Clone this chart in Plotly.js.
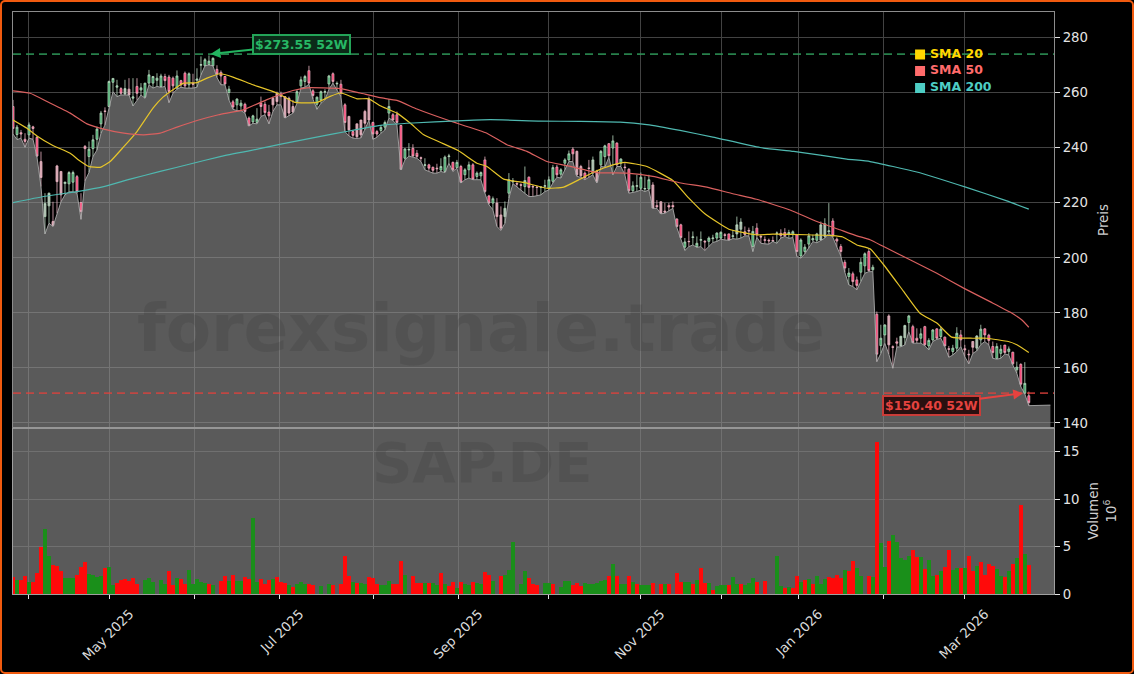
<!DOCTYPE html>
<html>
<head>
<meta charset="utf-8">
<script src="https://cdn.plot.ly/plotly-3.0.1.min.js"></script>
<style>
  html, body { margin: 0; padding: 0; background: #000; }
  #chart { position: relative; width: 1134px; height: 674px; }
  #frame { position: absolute; left: 0; top: 0; width: 1130px; height: 670px; border: 2px solid #f05a0f; border-radius: 5px; pointer-events: none; }
</style>
</head>
<body>
<div id="chart"></div>
<div id="frame"></div>
<script>
// one row = ten trading days
const opens = [
  255,244.8,245.5,243.1,244.7,247.6,243.8,235,215,218.9,
  213.2,233.4,231.4,227,226.9,227.5,229.5,220.1,240.5,236.8,
  239.7,243.1,248.7,253.4,255,263.8,262,261.5,259.5,261.3,
  258,262.3,261,258.4,263.5,263.5,264.5,262.3,265.9,265.7,
  265.3,261.7,264.4,267.1,262.9,263.5,264.5,270,269.8,270.2,
  269.8,268.5,267.4,265.9,260.1,256.7,255.6,255.2,255.8,250.8,
  249.4,249.2,256.2,255.8,253,258,259.8,259.6,258.6,258,
  255,256.6,262.5,264.1,268,260.7,255.8,257.4,260.2,263.2,
  266.9,263.2,263.1,255.6,251.4,245.9,248.7,250.1,253.2,257.7,
  249.2,245.9,246.3,247.5,252.6,252,252,248.1,236.2,239.2,
  239.8,238,236.4,233.6,233.8,232.9,232.6,231.9,231.4,236.8,
  234.7,232.8,233.2,230.2,232,233.8,229.6,229.8,235.6,222.5,
  219.9,219.9,215.6,215,223.5,227.6,227,226.6,225.9,229.3,
  225.9,225.7,225.6,226,225.3,227.8,233,230.4,234.4,235.6,
  239.5,238.7,233.2,230.8,232.7,230.8,231.4,233.8,236.8,241.5,
  239.9,241.7,234.4,233,232.2,224.4,226,225.3,225,225,
  226.5,219,220.4,217,219,219,214.1,212,203.9,206,
  207.4,204.1,206.4,206,206,207,207.2,207.2,208.4,208.7,
  207.8,208.7,210.4,209.5,210,204.1,210.8,207.8,206.6,206.4,
  206.3,208.9,208.9,209.2,208.6,208.6,208.4,200.7,202.3,205,
  206.5,206.4,206.5,207.8,209.5,213.4,206.8,204.1,198.4,193.2,
  194.2,192,194.8,197.1,202.3,195.7,179.5,168.1,172,178.9,
  167.7,169.5,168,171,176.5,175,170.8,170.8,175,168,
  170.2,174.2,171.4,171.2,167,166,167.2,172,167,165,
  169.6,167.2,170.2,174.2,171.9,167.8,163.5,165.3,168.3,166,
  165.7,159.3,161.3,150.8,149.9
];
const highs = [
  257.4,248.3,246.5,245.3,249.2,248,244.3,238.6,223.5,223.7,
  220.4,233.8,231.4,227.7,231.5,231.7,230.1,223.5,241,242.3,
  244.7,247.7,253.4,254.7,264.4,265.3,264.7,262,264.7,265.3,
  265.3,265.3,263.5,263.5,268.3,266.1,267.1,266.9,266.9,266.5,
  265.9,268.1,264.7,267.7,267.4,266.9,268.9,273.2,272.6,273.55,
  272.9,270,268.1,266.1,262.5,257.4,258,257.4,256.4,251.4,
  252,254.4,258.6,256.8,255.6,258.6,260.4,260.4,258.6,258.6,
  257.4,261,265.9,266.5,269.8,261.3,258.6,260.8,261.3,266.5,
  267.4,264.1,264.7,256.2,251.6,246.5,248.7,250.1,253.8,258.6,
  249.5,246.5,248.3,249.9,257.7,252.6,253.2,248.3,239.8,241.7,
  241.3,239.2,236.8,236.2,234.2,233.2,234.2,236.2,237.2,237.8,
  235,235.6,233.8,232.6,235,234.4,231.4,231.4,236.8,222.9,
  222.3,221.7,218.7,220.5,230.8,229,227.5,227.1,233.2,229.6,
  226.5,226.2,225.9,228.4,229.6,233.8,233.8,232.6,236.2,239,
  240.2,239,233.8,231.4,235.6,236.8,232,239.2,241.1,241.7,
  244.5,242,236.2,234.4,232.6,227.8,230.2,231,229.6,230.2,
  227.5,221,220.5,220,220,220.5,214.4,212.4,207.2,209.6,
  209.6,207.8,209.6,206.5,207.8,208.4,209.3,209.6,209,208.8,
  210.2,215,214.4,211.4,211,211.6,212.6,208.4,207.8,207,
  207.8,209.6,210.4,210.8,210.2,210,208.7,207.1,205,209,
  208.4,209.1,213.2,214.4,219.9,214.4,207.4,205,199.3,196.3,
  195,193.2,199.9,202,203.2,197.5,180.5,175.7,175.9,179.5,
  168.2,171,171.7,175.7,179.3,175.7,174.4,174.4,175.3,170.8,
  174.1,174.4,175,171.4,168,168.4,174.8,173.8,168.4,166.6,
  169.8,171.9,175.7,174.4,172.4,169.6,169,168.4,168.4,167.8,
  165.9,162.3,161.7,162.1,151.4
];
const lows = [
  245,243,243.5,240.2,243.5,243.1,236.6,225.9,208.7,212.6,
  211.4,216.2,220.4,222.9,224,224,223.5,214,228,231,
  236.8,239.2,245.3,248.3,254.7,260.4,258.6,259.2,259.2,259.2,
  255.2,257.4,259.2,258,262.9,261.7,262.3,262,262.3,256.4,
  259.8,261.3,262,261.7,261.7,261.7,262,266.5,269.8,270.1,
  269.8,265.5,262.9,262.9,257.4,254,253.5,253.5,252.6,248,
  248.9,248.7,251.4,252,248.7,253.2,255.6,255.6,250.8,251.6,
  252.6,256.2,261.7,262,263.1,257.7,254,256.2,257.4,261.3,
  263.5,261,258.6,245.9,244.3,243.5,243.4,243.6,246.5,250,
  243.1,243.8,245.3,246.5,250.8,249.9,248.3,232,235.6,237,
  236.6,236.2,235,232,231.4,230.8,230.8,231.4,231,234.4,
  231.4,232.6,227.2,228.4,229,228.4,228.4,228.4,223.5,219.3,
  217.5,211.4,210,212.6,221.7,227,225.8,224.7,223.5,222.3,
  222.3,222.6,222.9,224.1,224.7,227.2,229.3,229,232,235,
  235,229.6,229.3,228.4,229.3,230.2,227.2,233.2,233,236.6,
  230.2,233.2,233.2,230.2,223.5,223.8,224.1,224.7,224.1,224.7,
  218,218,216,216.2,217,218,211,207,202.7,204.1,
  204.7,203.8,204.1,202.7,204.1,205.6,206,206.8,206.5,206.4,
  207,206.8,207.2,208,208,202.3,207.5,205.3,205.1,205,
  206,205.3,207.2,207.8,207.1,207.4,200.5,199.9,201.5,203.5,
  205.9,205.5,206.5,207.2,208.9,207.5,204,200.7,194.8,190.2,
  189.6,188.4,191.4,194.4,195,195,162.3,165.3,169,165,
  159.9,167.6,167.7,168.4,173.2,169,169,169,168.1,166.6,
  169.6,170.4,170.8,167.8,163.9,164.7,166,167.8,164.1,161.5,
  165.3,166.2,168.5,169.6,168.4,163.5,163.2,163.5,165.1,164.7,
  161.1,158.1,153.2,150.6,146.3
];
const closes = [
  247,247.5,245,242.3,248.3,247,237,229.2,219.8,223.5,
  211.8,227.7,222.9,227.5,231,231,224,216.8,239.7,239.5,
  242.9,246.8,252.6,253.2,264.1,265.2,262.5,259.8,261.5,259.2,
  258.5,259.8,261.8,263.5,266.5,265.9,265.3,266.1,264.4,260.4,
  262.5,266.1,262.9,262.5,266.9,263.1,265,270.2,272,271.5,
  272.5,266.8,266.1,263.2,261.3,254.8,257.7,256.2,253.2,248,
  251.6,250.4,255,252.8,251.6,255.6,256.8,258.6,251,252.6,
  253,260.4,264.7,265.9,263.5,259,258.4,260.4,260.4,266.1,
  264.1,263.4,259.8,249.2,246.5,244.5,244,244.7,248.9,250.1,
  245,245,247.4,249.2,255,250.1,249.2,232.2,239.6,239.4,
  237,236.8,236.2,233.8,232.6,231.8,232.4,233.2,236.6,237,
  232,234.7,227.5,232,233.8,228.6,230.8,231,224.1,219.9,
  221.5,215,210.8,218,228.4,227.9,226.8,226.4,228.1,225.6,
  225.8,225.6,225.7,226.2,228.4,232.8,230.2,232,235.6,237.8,
  237.8,230.2,229.8,229,232.5,235.6,227.8,238.7,240.7,237.1,
  242.5,233.8,235.9,232.8,224.4,226.2,226.2,229.3,225.2,228.4,
  218.1,218.6,216.2,216.6,218.5,218.6,211.4,207.4,205.8,205.9,
  207.6,205.3,206.6,205.8,207.2,207.2,209,209.3,208.2,206.5,
  208,212,213,208.5,209.8,209.6,208.4,207.6,206.4,206.2,
  206.1,209,208.1,208,209.2,209.5,202.3,206.5,203.9,208,
  207,208.7,212,212.4,209.8,208,206.1,202.3,196.3,194.5,
  191.4,190,198.4,201.5,195.4,196.6,165,170.8,175.6,168.4,
  167.5,169,171.5,175.4,178.9,169.2,170,172.4,168.4,170,
  173.8,170.8,174.1,168,166.8,167.2,172.6,170.2,166.6,164.8,
  167.5,171.6,174.1,172,170,165.6,167.8,166.8,165.6,166.9,
  161.5,160.3,154.1,154.4,147.4
];
// candles whose bodies look washed out in the picture
const paleDays = [7,8,9,10,11,12,28,29,65,66,68,69,70,84,86,87,88,89,121,122,123,141,142,145,146,160,162,163,181,182,202,203,219,222,223,240,241];
// volume in millions
const volumes = [
  1.8,1.5,1.5,1.9,1.3,1.3,2.2,5,6.9,4,
  3.1,3,2.4,1.65,1.65,1.65,2,2.8,3.35,2.1,
  2,1.75,1.85,2.7,2.8,.95,1.15,1.5,1.6,1.4,
  1.65,1.05,0,1.5,1.65,1.3,0,1.5,1.1,2.45,
  .95,1.65,1.6,1.1,2.5,1.1,1.6,1.3,1.2,1.05,
  .95,0,1.4,1.85,1.4,2,1.4,1.4,1.75,1.55,
  8.05,1.3,1.6,1.05,1.5,1.55,1.75,1.3,1.2,.95,
  .75,1.05,1.3,1.05,1.05,1,0,.85,0,1.05,
  .95,0,1.1,4,1.9,1.3,1.2,1.2,1.05,1.75,
  1.65,1.05,1,1,1.4,1.1,1.1,3.5,2,0,
  1.85,1.2,1.15,1.2,1.2,1.2,.9,2.25,1.05,.8,
  1.25,.65,1.3,1.05,1,1.3,1.2,1.1,2.3,2.05,
  1.35,0,1.85,2,2.55,5.45,0,1.1,2.45,1.65,
  1.05,.95,0,1.2,1.2,1.05,0,.7,1.35,1.35,
  .95,1.2,.8,1.2,1.1,1.1,1.2,1.35,1.45,1.85,
  3.15,1.85,1.1,1.1,1.9,1.3,1.1,.95,.95,.95,
  1.2,0,1.1,1.05,1.1,0,2.25,1.3,1.3,1.3,
  1.05,1.45,2.75,1.2,1.2,.4,.85,1,.9,.95,
  1.75,1.1,1.05,.95,1.2,1.65,1.3,0,1.35,0,
  0,4,.8,.65,.7,.65,1.9,1.3,1.5,1.55,
  1.1,1.85,1.1,1.55,1.75,1.7,2.05,1.7,2.55,2.4,
  3.5,2.7,1.85,0,1.9,1.75,16,5.4,2.8,5.6,
  6.2,5.5,3.75,3.6,4,4.65,3.9,3.9,2.65,3.6,
  1.9,2,2.45,2.8,4.65,2.55,2.7,2.7,2.7,4,
  2.4,3,3.35,2,3.15,3,2.65,1.85,1.75,2.4,
  3.2,3.75,9.4,4.2,3.1
];
// bar colour of each volume bar as seen: r = red, g = green
const volumeDirs = `
  r g r r g r r r g g
  r r r g g g r r r g
  g g g r g g r r r r
  r r r g g g g g g r
  r g r r g g g g g r
  g g r r g r g g r r
  g g r r r g r r r g
  r g g g r r g g g g
  r r r r r g r g g r
  r r g g g r r r g g
  r r r g r g g r g r
  r g r g g r g g r r
  g g r g g g g g g r
  r r r g g r g g g g
  r r r g g g g g g r
  g r g g r g r g g g
  r r r g r r r r g g
  r g r r g r g g g r
  g g r g g g r r r r
  r g g r g r r g r g
  r g g g r r r r g r
  r g g g r g r g g r
  g g g g g r r g r g
  g r g r r g g r g r
  r g r r r r g g r g
  r g r g r`.trim().split(/\s+/);

const sma20Idx = [0,3.5,6,9.75,14.3,16.4,19,21.8,24.3,27.7,31,35,37.5,40.2,42.7,46,48.5,51.8,55,60,66,70.5,76,79.3,82,86,89,91.8,96,99.3,102.7,106.8,111.3,116,118.5,122.7,127.7,133.5,137.7,141.8,145,150,153,158.5,165,169,173,179,185.7,190,198.5,204.8,207.5,211,214.3,217.7,222.7,226.8,231,234.7,240,243.5,248.9,251,254];
const sma20Val = [250.1,247.1,244.3,241,238,235.6,233.2,232.9,235,240.4,245.9,254.4,258.4,261.3,263.5,263.7,265.3,266.9,265.7,262.9,259.9,256.5,256.5,258.7,259.9,257.8,257.8,255.3,252.6,249,244.7,242,239,234.4,233.2,228.6,227.4,225.3,225.7,228.6,231,233.8,234.7,233.2,228.1,221.7,216,210.4,208.4,208.6,208.4,208.1,207.6,204.7,203.3,197.5,187.8,179.9,176.3,171.2,170.8,170.8,169.6,168.4,165.6];
const sma50Idx = [0,4.3,8.5,14.3,18.5,22.7,27.7,32.7,36.8,41,46,51.4,57.6,63.5,70,73.5,81.8,86.8,91.8,96,101,109,118.5,123.5,128.5,133.5,138.5,146,153.5,160,167,173.5,180,185.9,194.3,201,206.8,211,214.3,217.7,224.3,231,237.7,244.3,249.3,252.2,254];
const sma50Val = [260.7,259.8,256.8,252.6,248.7,246.8,245.3,244.7,245.3,247.5,249.9,252,253.8,257.5,260.8,261.8,261.5,259.9,258.2,257.2,254.1,249.9,245.3,241.1,238.7,235,233.5,231,230.8,229.6,227.2,225.7,223.3,221.3,217.4,213.2,210.2,208,206.6,204.1,199.3,194.4,189,184.1,180.3,177.5,174.8];
const sma200Idx = [0,7.7,16,22.7,29.3,36.8,44.3,51.8,59,67.3,75.6,84,92.3,100,111,119.3,131.8,141.8,151.8,158.5,166.8,175,186.8,195.2,208.5,214.3,226,238.4,248.5,254];
const sma200Val = [220.1,222.3,224.1,225.9,228.6,231.4,234.1,236.8,238.9,241.4,243.8,246.1,248.2,249,249.8,250.2,249.7,249.6,249.3,248.4,246.3,243.9,240.1,238.7,235.9,235,231.2,225.6,220.7,217.7];

const labelledMonths = [24.2,66.7,111.5,157,196.4,238];
const monthLabels = ['May 2025','Jul 2025','Sep 2025','Nov 2025','Jan 2026','Mar 2026'];
const otherMonths = [3.95,45.5,90.2,133.8,177.2,217.7];
const priceTicks = [140,160,180,200,220,240,260,280];
const volumeTicks = [0,5,10,15];

const highLevel = 274.05;
const lowLevel = 150.85;
const highLabel = '$273.55 52W';
const lowLabel = '$150.40 52W';
const tailIdx = 259.4;      // the grey area runs on past the last candle
const tailVal = 146.5;

const smaLegend = ['SMA 20','SMA 50','SMA 200'];
const smaColors = ['#ffd700','#ff6b6b','#4ecdc4'];
const smaLineColors = ['#e6c52a','#d9605f','#4fb8b0'];

// page pixels to paper fractions, only used for legend and watermark
const PL = 12.5, PR = 1054, PT = 12, PB = 594;
const paperX = (px) => (px - PL) / (PR - PL);
const paperY = (py) => (PB - py) / (PB - PT);
const splitY = paperY(428);

const idx = opens.map((_, i) => i);
const FONT = '"DejaVu Sans", sans-serif';

function candleTrace(days, upFill, downFill) {
  return {
    type: 'candlestick', x: days,
    open: days.map((i) => opens[i]), high: days.map((i) => highs[i]),
    low: days.map((i) => lows[i]), close: days.map((i) => closes[i]),
    whiskerwidth: 0, showlegend: false, hoverinfo: 'skip',
    increasing: { line: { color: '#b9d8bf', width: 0.8 }, fillcolor: upFill },
    decreasing: { line: { color: '#eab4c2', width: 0.8 }, fillcolor: downFill },
  };
}

function smaTrace(xs, ys, color) {
  return {
    type: 'scatter', mode: 'lines', x: xs, y: ys, hoverinfo: 'skip', showlegend: false,
    line: { color: color, width: 1.2, shape: 'spline', smoothing: 0.4 },
  };
}

const traces = [
  {
    type: 'scatter', mode: 'lines', x: idx.concat([tailIdx]), y: lows.concat([tailVal]),
    fill: 'tozeroy', fillcolor: 'rgba(150,150,150,0.6)',
    line: { color: 'rgba(175,175,175,0.85)', width: 1 }, hoverinfo: 'skip', showlegend: false,
  },
  candleTrace(idx.filter((i) => !paleDays.includes(i)), '#2fa35e', '#ff2f68'),
  candleTrace(paleDays, '#aeb8ae', '#d2a6b0'),
  smaTrace(sma20Idx, sma20Val, smaLineColors[0]),
  smaTrace(sma50Idx, sma50Val, smaLineColors[1]),
  smaTrace(sma200Idx, sma200Val, smaLineColors[2]),
  {
    type: 'bar', x: idx, y: volumes, xaxis: 'x2', yaxis: 'y2',
    marker: { color: volumeDirs.map((d) => (d === 'g' ? '#1a8f1a' : '#ff0a0a')), line: { width: 0 } },
    hoverinfo: 'skip', showlegend: false,
  },
];

const shapes = [
  { type: 'rect', xref: 'paper', yref: 'paper', x0: 0, x1: 1, y0: 0, y1: splitY, layer: 'below', fillcolor: '#5a5a5a', line: { width: 0 } },
  { type: 'line', xref: 'paper', yref: 'y', x0: 0, x1: 1, y0: highLevel, y1: highLevel, line: { color: 'rgba(46,150,88,0.85)', width: 1.8, dash: '8px,5px' } },
  { type: 'line', xref: 'paper', yref: 'y', x0: 0, x1: 1, y0: lowLevel, y1: lowLevel, line: { color: 'rgba(225,65,60,0.75)', width: 1.8, dash: '8px,5px' } },
  { type: 'line', xref: 'paper', yref: 'paper', x0: 0, x1: 1, y0: splitY, y1: splitY, line: { color: '#969696', width: 2 } },
];
smaColors.forEach((c, k) => {
  const top = [49.5, 66, 83][k];
  shapes.push({
    type: 'rect', xref: 'paper', yref: 'paper', x0: paperX(915), x1: paperX(925),
    y0: paperY(top + 10), y1: paperY(top), fillcolor: c, line: { width: 0 },
  });
});

const annotations = [
  { xref: 'paper', yref: 'paper', x: paperX(481), y: paperY(328), yanchor: 'middle', text: 'forexsignale.trade', showarrow: false, font: { family: FONT, size: 66, color: 'rgba(45,45,45,0.17)', weight: 'bold' } },
  { xref: 'paper', yref: 'paper', x: paperX(482), y: paperY(462), yanchor: 'middle', text: 'SAP.DE', showarrow: false, font: { family: FONT, size: 56, color: 'rgba(45,45,45,0.17)', weight: 'bold' } },
  {
    x: 49.4, y: highLevel, xref: 'x', yref: 'y', text: highLabel, ax: 91, ay: -10, axref: 'pixel', ayref: 'pixel',
    showarrow: true, arrowhead: 2, arrowsize: 1, arrowwidth: 2, arrowcolor: '#23b45f',
    font: { family: FONT, size: 12.5, color: '#27b765', weight: 'bold' },
    bgcolor: '#0b2a18', bordercolor: '#23a458', borderwidth: 2, borderpad: 1,
  },
  {
    x: 252.6, y: lowLevel, xref: 'x', yref: 'y', text: lowLabel, ax: -92, ay: 12, axref: 'pixel', ayref: 'pixel',
    showarrow: true, arrowhead: 2, arrowsize: 1, arrowwidth: 2, arrowcolor: '#e8423f',
    font: { family: FONT, size: 12.5, color: '#e5433f', weight: 'bold' },
    bgcolor: '#2a1010', bordercolor: '#c93c38', borderwidth: 2, borderpad: 1,
  },
];
smaLegend.forEach((name, k) => {
  annotations.push({
    xref: 'paper', yref: 'paper', x: paperX(928), y: paperY([54, 70, 87][k]), xanchor: 'left', yanchor: 'middle', text: name, showarrow: false,
    font: { family: FONT, size: 12.5, color: smaColors[k], weight: 'bold' },
  });
});

const tickFont = { family: FONT, size: 13.3, color: '#e4e4e4' };
const xRange = [0, 260.3];
const allMonths = labelledMonths.concat(otherMonths).sort((a, b) => a - b);

const layout = {
  width: 1134, height: 674,
  margin: { l: PL, r: 1134 - PR, t: PT, b: 674 - PB, pad: 0 },
  paper_bgcolor: '#000', plot_bgcolor: '#000',
  font: { family: FONT, color: '#e4e4e4' },
  showlegend: false, bargap: 0, boxgap: 0.3,
  dragmode: false, hovermode: false,
  xaxis: {
    domain: [0, 1], anchor: 'y', range: xRange, tickmode: 'array', tickvals: allMonths, showticklabels: false,
    showgrid: true, gridcolor: '#424242', gridwidth: 1, zeroline: false, showline: true, linecolor: '#8c8c8c', mirror: true,
    ticks: '', rangeslider: { visible: false },
  },
  yaxis: {
    domain: [splitY, 1], anchor: 'x', side: 'right', range: [138.18, 289.34], tickmode: 'array', tickvals: priceTicks,
    showgrid: true, gridcolor: '#424242', gridwidth: 1, zeroline: false, showline: true, linecolor: '#8c8c8c', mirror: true,
    ticks: 'outside', ticklen: 5, tickcolor: '#e4e4e4', tickfont: tickFont,
    title: { text: 'Preis', font: { family: FONT, size: 13.3, color: '#cfcfcf' }, standoff: 11 },
  },
  xaxis2: {
    domain: [0, 1], anchor: 'y2', matches: 'x', range: xRange, tickmode: 'array', tickvals: labelledMonths, ticktext: monthLabels,
    tickangle: -45, tickfont: { family: FONT, size: 13.3, color: '#dcdcdc' }, ticklabelshift: 20, ticklabelstandoff: 2,
    showgrid: true, gridcolor: '#707070', gridwidth: 1, zeroline: false, showline: true, linecolor: '#a0a0a0',
    ticks: 'outside', ticklen: 4, tickcolor: '#e4e4e4',
    minor: { tickmode: 'array', tickvals: otherMonths, ticks: 'outside', ticklen: 4, tickcolor: '#e4e4e4', showgrid: true, gridcolor: '#707070', gridwidth: 1 },
  },
  yaxis2: {
    domain: [0, splitY], anchor: 'x2', side: 'right', range: [0, 17.5], tickmode: 'array', tickvals: volumeTicks,
    showgrid: true, gridcolor: '#707070', gridwidth: 1, zeroline: false, showline: true, linecolor: '#a0a0a0', mirror: true,
    ticks: 'outside', ticklen: 5, tickcolor: '#e4e4e4', tickfont: tickFont,
    title: { text: 'Volumen<br>10<sup>6</sup>', font: { family: FONT, size: 13.3, color: '#cfcfcf' }, standoff: 10 },
  },
  shapes: shapes,
  annotations: annotations,
};

Plotly.newPlot('chart', traces, layout, { displayModeBar: false, staticPlot: true });
</script>
</body>
</html>
